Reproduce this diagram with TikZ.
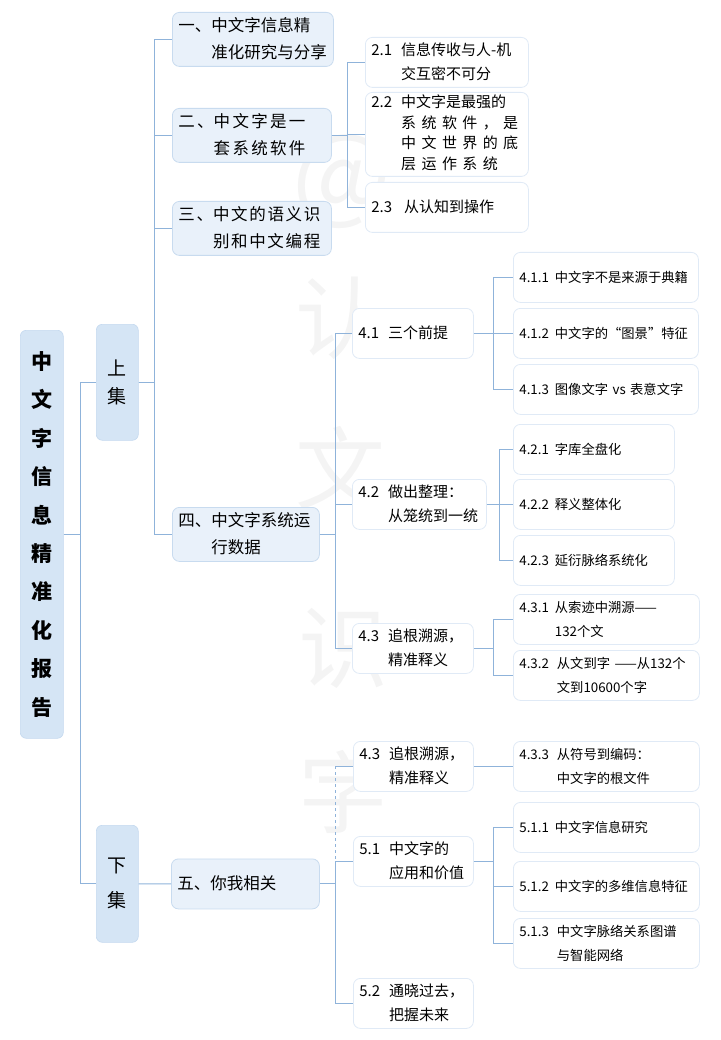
\documentclass[tikz,border=0pt]{standalone}
\usepackage{xcolor}
\usepackage{fontspec}
\setmainfont{Noto Sans CJK SC}
\usetikzlibrary{positioning}
\definecolor{rootfill}{HTML}{D5E5F5}
\definecolor{rootline}{HTML}{C4D9EF}
\definecolor{secfill}{HTML}{E9F1FA}
\definecolor{secline}{HTML}{C8DBEF}
\definecolor{leafline}{HTML}{E0EAF6}
\definecolor{linecol}{HTML}{8FB3DA}
\definecolor{markgray}{HTML}{F4F4F4}
\newcommand{\numbered}[3][6pt]{\begin{tabular}[t]{@{}l@{\hspace{#1}}l@{}}#2 & \begin{tabular}[t]{@{}l@{}}#3\end{tabular}\end{tabular}}
\tikzstyle{box} = [rectangle, draw, rounded corners=7pt, anchor=north west,
    inner xsep=6pt, inner ysep=0pt, align=left, line width=0.8pt, minimum height=50pt]
\tikzstyle{topic} = [rectangle, fill=rootfill, draw=rootline, rounded corners=6pt,
    anchor=north west, inner sep=0pt, align=center, line width=0.6pt]
\tikzstyle{branch} = [box, fill=secfill, draw=secline, font=\fontsize{16.5}{27}\selectfont]
\tikzstyle{sub} = [box, fill=white, draw=leafline, font=\fontsize{15}{24}\selectfont]
\tikzstyle{leaf} = [box, fill=white, draw=leafline, font=\fontsize{13.3}{24}\selectfont]
\tikzstyle{stamp} = [text=markgray, inner sep=0pt, font=\fontsize{90}{90}\selectfont]
\tikzstyle{line} = [draw=linecol, line width=1.1pt]

\begin{document}
\begin{tikzpicture}[x=1pt, y=-1pt]
    \useasboundingbox (0,0) rectangle (720,1040);

    % Watermark
    \node [stamp, font=\fontsize{105}{105}\selectfont] (wmat) at (342,182) {@};
    \node [stamp] (wm1) at (340,318) {认};
    \node [stamp] (wm2) at (340,468) {文};
    \node [stamp] (wm3) at (343,648) {识};
    \node [stamp] (wm4) at (343,792) {字};

    % Root and halves
    \node [topic, minimum width=43pt, minimum height=408pt,
        font=\fontsize{21}{38.4}\selectfont\bfseries] (root) at (20,330)
        {中\\文\\字\\信\\息\\精\\准\\化\\报\\告};
    \node [topic, minimum width=42pt, minimum height=116pt,
        font=\fontsize{19}{28}\selectfont] (shang) at (96,324) {上\\集};
    \node [topic, minimum width=42pt, minimum height=117pt,
        font=\fontsize{19}{35}\selectfont] (xia) at (96,825) {下\\集};

    % Sections
    \node [branch, text width=149pt] (s1) at (172,12) {\numbered[0pt]{一、}{中文字信息精\\准化研究与分享}};
    \node [branch, text width=147pt] (s2) at (172,108) {\addfontfeature{LetterSpace=14}\numbered[0pt]{二、}{中文字是一\\套系统软件}};
    \node [branch, text width=147pt] (s3) at (172,201) {\addfontfeature{LetterSpace=10}\numbered[0pt]{三、}{中文的语义识\\别和中文编程}};
    \node [branch, text width=135pt] (s4) at (172,507) {\numbered[0pt]{四、}{中文字系统运\\行数据}};
    \node [branch, text width=136pt] (s5) at (171,858.5) {\numbered[0pt]{五、}{你我相关}};

    % Part two
    \node [sub, text width=151pt] (s21) at (365,37) {\numbered[9pt]{2.1}{信息传收与人-机\\交互密不可分}};
    \node [sub, text width=151pt, minimum height=84pt, font=\fontsize{15}{20.5}\selectfont] (s22) at (365,92)
        {\numbered[9pt]{2.2}{中文字是最强的\\
        \makebox[117pt][s]{系\hfill 统\hfill 软\hfill 件\hfill ，\hfill 是}\\
        \makebox[117pt][s]{中\hfill 文\hfill 世\hfill 界\hfill 的\hfill 底}\\
        \makebox[96.6pt][s]{层\hfill 运\hfill 作\hfill 系\hfill 统}}};
    \node [sub, text width=151pt] (s23) at (365,182) {\numbered[12pt]{2.3}{从认知到操作}};

    % Part four
    \node [sub, text width=109pt] (s41) at (352,308) {\numbered[9pt]{4.1}{三个前提}};
    \node [sub, text width=122pt] (s42) at (352,479) {\numbered[9pt]{4.2}{做出整理：\\从笼统到一统}};
    \node [sub, text width=109pt] (s43) at (352,623) {\numbered[9pt]{4.3}{追根溯源，\\精准释义}};

    \node [leaf, text width=173pt] (s411) at (513,252) {\numbered{4.1.1}{中文字不是来源于典籍}};
    \node [leaf, text width=173pt] (s412) at (513,308) {\numbered{4.1.2}{中文字的“图景”特征}};
    \node [leaf, text width=173pt] (s413) at (513,364) {\numbered{4.1.3}{图像文字 vs 表意文字}};
    \node [leaf, text width=149pt] (s421) at (513,424) {\numbered{4.2.1}{字库全盘化}};
    \node [leaf, text width=149pt] (s422) at (513,479) {\numbered{4.2.2}{释义整体化}};
    \node [leaf, text width=149pt] (s423) at (513,535) {\numbered{4.2.3}{延衍脉络系统化}};
    \node [leaf, text width=174pt] (s431) at (513,594) {\numbered{4.3.1}{从索迹中溯源——\\132个文}};
    \node [leaf, text width=174pt] (s432) at (513,650) {\numbered[8pt]{4.3.2}{从文到字 ——从132个\\文到10600个字}};

    % Part five
    \node [sub, text width=108pt] (s43b) at (353,741) {\numbered[9pt]{4.3}{追根溯源，\\精准释义}};
    \node [leaf, text width=174pt] (s433) at (513,741) {\numbered[8pt]{4.3.3}{从符号到编码：\\中文字的根文件}};
    \node [sub, text width=108pt] (s51) at (353,836) {\numbered[9pt]{5.1}{中文字的\\应用和价值}};
    \node [sub, text width=108pt] (s52) at (353,978) {\numbered[9pt]{5.2}{通晓过去，\\把握未来}};
    \node [leaf, text width=174pt] (s511) at (513,802) {\numbered{5.1.1}{中文字信息研究}};
    \node [leaf, text width=174pt] (s512) at (513,861) {\numbered{5.1.2}{中文字的多维信息特征}};
    \node [leaf, text width=174pt] (s513) at (513,918) {\numbered[8pt]{5.1.3}{中文字脉络关系图谱\\与智能网络}};

    % Edges
    \path [line] (root.east) -- ++(17,0) |- (shang.west);
    \path [line] (root.east) -- ++(17,0) |- (xia.west);
    \path [line] (shang.east) -- ++(16,0) |- (s1.west);
    \path [line] (shang.east) -- ++(16,0) |- (s2.west);
    \path [line] (shang.east) -- ++(16,0) |- (s3.west);
    \path [line] (shang.east) -- ++(16,0) |- (s4.west);
    \path [line] (xia.east) -- (s5.west);
    \path [line] (s2.east) -- ++(16,0) |- (s21.west);
    \path [line] (s2.east) -- ++(16,0) |- (s22.west);
    \path [line] (s2.east) -- ++(16,0) |- (s23.west);
    \path [line] (s4.east) -- ++(16,0) |- (s41.west);
    \path [line] (s4.east) -- ++(16,0) |- (s42.west);
    \path [line] (s4.east) -- ++(16,0) |- (s43.west);
    \path [line] (s41.east) -- ++(20,0) |- (s411.west);
    \path [line] (s41.east) -- ++(20,0) |- (s412.west);
    \path [line] (s41.east) -- ++(20,0) |- (s413.west);
    \path [line] (s42.east) -- ++(13,0) |- (s421.west);
    \path [line] (s42.east) -- ++(13,0) |- (s422.west);
    \path [line] (s42.east) -- ++(13,0) |- (s423.west);
    \path [line] (s43.east) -- ++(20,0) |- (s431.west);
    \path [line] (s43.east) -- ++(20,0) |- (s432.west);
    \path [line] (s5.east) -- ++(16,0) |- (s51.west);
    \path [line] (s5.east) -- ++(16,0) |- (s52.west);
    \path [line] (s43b.west) -- ++(-18,0) coordinate (tick);
    \path [line, dashed, line width=0.6pt] (tick) -- (tick |- s51.west);
    \path [line] (s43b.east) -- (s433.west);
    \path [line] (s51.east) -- ++(20,0) |- (s511.west);
    \path [line] (s51.east) -- ++(20,0) |- (s512.west);
    \path [line] (s51.east) -- ++(20,0) |- (s513.west);
\end{tikzpicture}
\end{document}
